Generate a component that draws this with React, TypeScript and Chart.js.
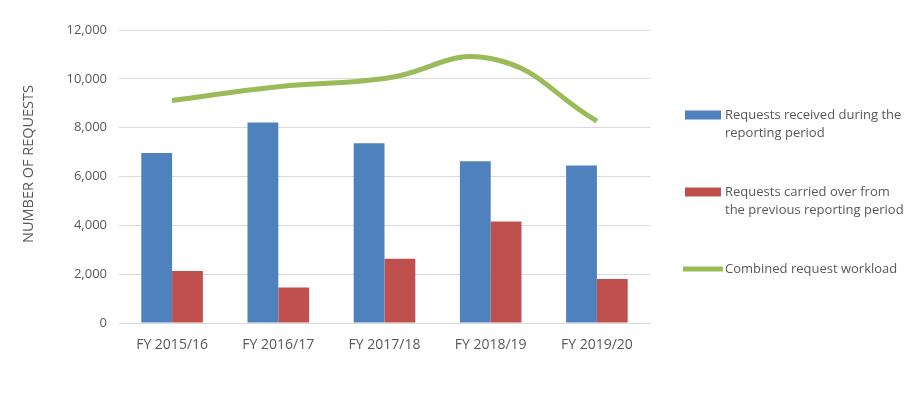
import React, { useEffect, useRef } from "react";
import { Chart, registerables } from "chart.js";

Chart.register(...registerables);

const categories = ["FY 2015/16", "FY 2016/17", "FY 2017/18", "FY 2018/19", "FY 2019/20"];
const received = [6960, 8210, 7360, 6620, 6450];
const carriedOver = [2130, 1450, 2630, 4160, 1800];
const combined = [9110, 9680, 10010, 10830, 8270];
const legendLines = [
  ["Requests received during the", "reporting period"],
  ["Requests carried over from", "the previous reporting period"],
  ["Combined request workload"],
];
const yTitle = "NUMBER OF REQUESTS";

const FONT = "'Open Sans', sans-serif";
const TEXT = "#595959";

const sidePlugin = {
  id: "sideDecor",
  afterDraw(chart: any) {
    const ctx = chart.ctx;
    ctx.save();
    // y axis title
    ctx.fillStyle = TEXT;
    ctx.font = `14.5px ${FONT}`;
    ctx.textAlign = "center";
    ctx.textBaseline = "middle";
    ctx.translate(29, 164);
    ctx.rotate(-Math.PI / 2);
    ctx.fillText(yTitle, 0, 0);
    ctx.restore();

    // legend
    ctx.save();
    ctx.font = `13px ${FONT}`;
    ctx.textAlign = "left";
    ctx.textBaseline = "middle";
    const tops = [115, 192, 269];
    chart.data.datasets.forEach((ds: any, i: number) => {
      const y = tops[i];
      const color = ds.type === "line" ? ds.borderColor : ds.backgroundColor;
      ctx.fillStyle = color;
      if (ds.type === "line") {
        ctx.fillRect(683, y - 2.5, 40, 5);
      } else {
        ctx.fillRect(685, y - 4.5, 36, 9);
      }
      ctx.fillStyle = TEXT;
      legendLines[i].forEach((line, j) => {
        ctx.fillText(line, 725, y + j * 18);
      });
    });
    ctx.restore();
  },
};

export default function App() {
  const ref = useRef<HTMLCanvasElement | null>(null);
  useEffect(() => {
    document.body.style.margin = "0";
    const chart = new Chart(ref.current as HTMLCanvasElement, {
      type: "bar",
      data: {
        labels: categories,
        datasets: [
          {
            type: "bar",
            label: "Requests received during the reporting period",
            data: received,
            backgroundColor: "#4F81BD",
            categoryPercentage: 0.58,
            barPercentage: 1,
            order: 2,
          },
          {
            type: "bar",
            label: "Requests carried over from the previous reporting period",
            data: carriedOver,
            backgroundColor: "#C0504D",
            categoryPercentage: 0.58,
            barPercentage: 1,
            order: 2,
          },
          {
            type: "line",
            label: "Combined request workload",
            data: combined,
            borderColor: "#9BBB59",
            backgroundColor: "#9BBB59",
            borderWidth: 5,
            pointRadius: 0,
            tension: 0.45,
            borderCapStyle: "butt",
            order: 1,
          } as any,
        ],
      },
      options: {
        responsive: false,
        animation: false,
        layout: { padding: { left: 0, right: 270, top: 30, bottom: 0 } },
        plugins: {
          legend: { display: false },
          tooltip: { enabled: false },
        },
        scales: {
          x: {
            grid: { display: false },
            border: { display: true, color: "#d9d9d9" },
            ticks: { color: TEXT, font: { family: FONT, size: 14 }, padding: 6 },
            afterFit: (s: any) => {
              s.height = 70;
            },
          },
          y: {
            min: 0,
            max: 12000,
            ticks: {
              stepSize: 2000,
              color: TEXT,
              font: { family: FONT, size: 13 },
              padding: 12,
              callback: (v: any) => Number(v).toLocaleString("en-US"),
            },
            grid: { color: "#d9d9d9", drawTicks: false },
            border: { display: false },
            afterFit: (s: any) => {
              s.width = 119;
            },
          },
        },
      },
      plugins: [sidePlugin],
    });
    return () => chart.destroy();
  }, []);
  return (
    <div style={{ width: 920, height: 393, background: "#fff" }}>
      <canvas ref={ref} width={920} height={393} />
    </div>
  );
}
